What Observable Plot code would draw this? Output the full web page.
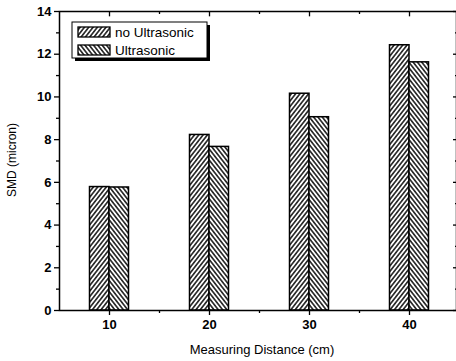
<!DOCTYPE html>
<html>
<head>
<meta charset="utf-8">
<script src="https://cdn.jsdelivr.net/npm/d3@7"></script>
<script src="https://cdn.jsdelivr.net/npm/@observablehq/plot@0.6"></script>
<style>
  html, body { margin: 0; padding: 0; background: #fff; overflow: hidden; }
  #chart svg { overflow: hidden; }
</style>
</head>
<body>
<div id="chart"></div>
<script>
const distances = [10, 20, 30, 40];
const noUltrasonic = [5.78, 8.22, 10.15, 12.42];
const ultrasonic = [5.76, 7.66, 9.05, 11.62];
const seriesNames = ["no Ultrasonic", "Ultrasonic"];
const yTicks = [0, 2, 4, 6, 8, 10, 12, 14];
const xTicks = [10, 20, 30, 40];
const xMinor = [15, 25, 35];

const rows = [];
distances.forEach((d, i) => {
  rows.push({dist: d, value: noUltrasonic[i], series: seriesNames[0], side: -1});
  rows.push({dist: d, value: ultrasonic[i], series: seriesNames[1], side: 1});
});
const barHalf = 1.95;

const yMinor = d3.range(1, 14, 2);
const xDomain = [5, 45];
const yDomain = [0, 14];

const font = "'Liberation Sans', Arial, sans-serif";

const plot = Plot.plot({
  width: 456,
  height: 361,
  marginTop: 11,
  marginBottom: 51,
  marginLeft: 59,
  marginRight: 0,
  style: {fontFamily: font, fontSize: "12px", color: "#000", background: "#fff"},
  x: {domain: xDomain, range: [59, 459]},
  y: {domain: yDomain, range: [310, 11]},
  marks: [
    Plot.rectY(rows, {
      x1: d => d.side < 0 ? d.dist - barHalf : d.dist,
      x2: d => d.side < 0 ? d.dist : d.dist + barHalf,
      y1: 0,
      y2: "value",
      fill: d => d.side < 0 ? "url(#hatchA)" : "url(#hatchB)",
      stroke: "#000",
      strokeWidth: 1.5
    }),
    Plot.frame({stroke: "#000", strokeWidth: 1.5}),
    // bottom axis
    Plot.axisX({ticks: xTicks, tickSize: 5, tickPadding: 4, strokeWidth: 1.3, fontWeight: "bold", fontSize: 13, label: null}),
    Plot.axisX({ticks: xMinor, tickSize: 3, text: null, strokeWidth: 1.3, label: null}),
    // top axis inward ticks
    Plot.ruleX(xTicks, {x: d => d, y1: yDomain[1], y2: yDomain[1] - 0.25, stroke: "#000", strokeWidth: 1.3}),
    Plot.ruleX(xMinor, {x: d => d, y1: yDomain[1], y2: yDomain[1] - 0.14, stroke: "#000", strokeWidth: 1.3}),
    // left axis
    Plot.axisY({ticks: yTicks, tickSize: 5, tickPadding: 3, strokeWidth: 1.3, fontWeight: "bold", fontSize: 13, label: null}),
    Plot.axisY({ticks: yMinor, tickSize: 3, text: null, strokeWidth: 1.3, label: null}),
    // right axis inward ticks
    Plot.ruleY(yTicks, {y: d => d, x1: xDomain[1], x2: xDomain[1] - 0.6, stroke: "#000", strokeWidth: 1.3}),
    Plot.ruleY(yMinor, {y: d => d, x1: xDomain[1], x2: xDomain[1] - 0.4, stroke: "#000", strokeWidth: 1.3})
  ]
});

// hatch patterns
const svg = d3.select(plot);
const defs = svg.insert("defs", ":first-child");
function hatch(id, angle) {
  const s = 3.4;
  const p = defs.append("pattern")
    .attr("id", id)
    .attr("patternUnits", "userSpaceOnUse")
    .attr("width", s)
    .attr("height", s)
    .attr("patternTransform", `rotate(${angle})`);
  p.append("rect").attr("width", s).attr("height", s).attr("fill", "#fff");
  p.append("line").attr("x1", s / 2).attr("y1", -1).attr("x2", s / 2).attr("y2", s + 1)
    .attr("stroke", "#000").attr("stroke-width", 1.4);
}
hatch("hatchA", 38);
hatch("hatchB", -38);

// axis titles
svg.append("text")
  .attr("x", 262).attr("y", 354)
  .attr("text-anchor", "middle")
  .style("font-family", font).style("font-size", "13px")
  .text("Measuring Distance (cm)");
svg.append("text")
  .attr("transform", "translate(16,160) rotate(-90)")
  .attr("text-anchor", "middle")
  .style("font-family", font).style("font-size", "12px")
  .text("SMD (micron)");

// legend
const lg = svg.append("g");
lg.append("rect").attr("x", 75).attr("y", 25).attr("width", 135).attr("height", 36).attr("fill", "#000");
lg.append("rect").attr("x", 72).attr("y", 22).attr("width", 135).attr("height", 36)
  .attr("fill", "#fff").attr("stroke", "#000").attr("stroke-width", 1);
seriesNames.forEach((name, i) => {
  const y = 27 + i * 18;
  lg.append("rect").attr("x", 78).attr("y", y).attr("width", 32).attr("height", 10)
    .attr("fill", i === 0 ? "url(#hatchA)" : "url(#hatchB)")
    .attr("stroke", "#000").attr("stroke-width", 1.3);
  lg.append("text").attr("x", 115).attr("y", y + 10)
    .attr("text-anchor", "start")
    .style("font-family", font).style("font-size", "13.5px")
    .text(name);
});

document.getElementById("chart").appendChild(plot);
</script>
</body>
</html>
